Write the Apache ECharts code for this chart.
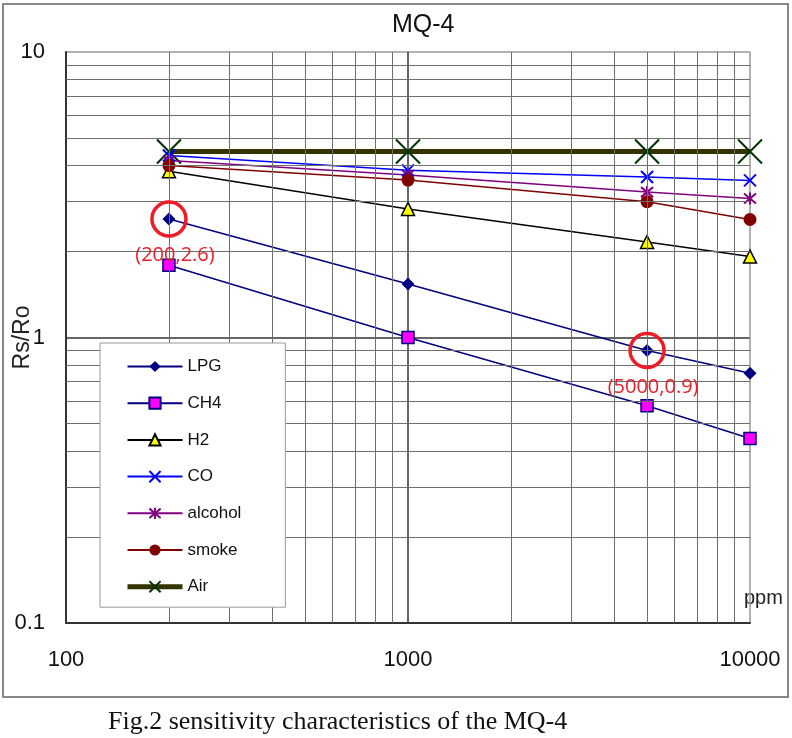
<!DOCTYPE html>
<html>
<head>
<meta charset="utf-8">
<title>MQ-4</title>
<script src="https://cdn.jsdelivr.net/npm/echarts@6/dist/echarts.min.js"></script>
<style>
  html, body { margin: 0; padding: 0; background: #fff; }
  #chart { width: 792px; height: 738px; }
</style>
</head>
<body>
<div id="chart"></div>
<script>
// concentrations (ppm) where the curves were sampled
var ppm = [200, 1000, 5000, 10000]

// Rs/Ro for each gas
var lpg = [2.6, 1.54, 0.9, 0.75]
var ch4 = [1.79, 1.0, 0.577, 0.443]
var h2 = [3.82, 2.82, 2.16, 1.92]
var co = [4.34, 3.85, 3.65, 3.55]
var alcohol = [4.17, 3.71, 3.23, 3.07]
var smoke = [4.0, 3.56, 2.99, 2.59]
var air = [4.48, 4.48, 4.48, 4.48]

// log grid lines between the decades
var xMinor = [200, 300, 400, 500, 600, 700, 800, 900, 2000, 3000, 4000, 5000, 6000, 7000, 8000, 9000]
var yMinor = [0.2, 0.3, 0.4, 0.5, 0.6, 0.7, 0.8, 0.9, 2, 3, 4, 5, 6, 7, 8, 9]

// points circled in red on the LPG curve
var marked = [[200, 2.6], [5000, 0.9]]

var FONT = 'Liberation Sans'
var cross = 'path://M0,0L10,10M10,0L0,10'
var star = 'path://M0,0L10,10M10,0L0,10M5,-1L5,11'

function pairs(vals) {
  return ppm.map(function (x, i) { return [x, vals[i]] })
}

function gridLines() {
  var d = []
  xMinor.forEach(function (v) { d.push({ xAxis: v }) })
  yMinor.forEach(function (v) { d.push({ yAxis: v }) })
  return d
}

var chart = echarts.init(document.getElementById('chart'))

chart.setOption({
  animation: false,
  backgroundColor: '#fff',
  title: [{
    text: 'MQ-4',
    left: 392,
    top: 13,
    padding: 0,
    textStyle: { fontFamily: FONT, fontSize: 25, fontWeight: 'normal', color: '#111' }
  }, {
    text: 'Fig.2 sensitivity characteristics of the MQ-4',
    left: 108,
    top: 709,
    padding: 0,
    textStyle: { fontFamily: 'Liberation Serif', fontSize: 26, fontWeight: 'normal', color: '#111' }
  }],
  graphic: [{
    type: 'rect',
    z: -1,
    shape: { x: 3, y: 4, width: 785, height: 693 },
    style: { fill: 'none', stroke: '#888', lineWidth: 2 }
  }, {
    type: 'text',
    left: 744,
    top: 588,
    style: { text: 'ppm', font: '20px ' + FONT, fill: '#222' }
  }],
  grid: { left: 66, right: 42, top: 52, bottom: 115, outerBoundsMode: 'none' },
  legend: {
    orient: 'vertical',
    left: 100,
    top: 343,
    z: 20,
    padding: [15, 44, 12, 25],
    itemWidth: 55,
    itemHeight: 14,
    itemGap: 19.7,
    backgroundColor: '#fff',
    borderColor: '#999',
    borderWidth: 1,
    textStyle: { fontFamily: FONT, fontSize: 17, color: '#111' },
    data: ['LPG', 'CH4', 'H2', 'CO', 'alcohol', 'smoke', { name: 'Air', lineStyle: { width: 5 } }]
  },
  xAxis: {
    type: 'log',
    logBase: 10,
    min: 100,
    max: 10000,
    axisTick: { show: false },
    axisLine: { show: true, lineStyle: { color: '#333', width: 2 } },
    axisLabel: {
      fontFamily: FONT, fontSize: 22, color: '#111', margin: 26,
      formatter: function (v) { return String(v) }
    },
    splitLine: { show: true, lineStyle: { color: ['#333', '#333', '#999'], width: 1.5 } }
  },
  yAxis: {
    type: 'log',
    logBase: 10,
    min: 0.1,
    max: 10,
    name: 'Rs/Ro',
    nameLocation: 'middle',
    nameGap: 32,
    nameRotate: 90,
    nameMoveOverlap: false,
    nameTextStyle: { fontFamily: FONT, fontSize: 23, color: '#222' },
    axisTick: { show: false },
    axisLine: { show: true, lineStyle: { color: '#333', width: 2 } },
    axisLabel: {
      fontFamily: FONT, fontSize: 22, color: '#111', margin: 21,
      formatter: function (v) { return String(v) }
    },
    splitLine: { show: true, lineStyle: { color: ['#333', '#333', '#999'], width: 1.5 } }
  },
  series: [{
    name: 'grid',
    type: 'line',
    data: [],
    silent: true,
    markLine: {
      silent: true,
      symbol: 'none',
      label: { show: false },
      lineStyle: { color: '#6e6e6e', type: 'solid', width: 1 },
      data: gridLines()
    }
  }, {
    name: 'LPG',
    type: 'line',
    data: pairs(lpg),
    symbol: 'diamond',
    symbolSize: 13,
    itemStyle: { color: '#000080' },
    lineStyle: { color: '#000080', width: 1.5 },
    markPoint: {
      symbol: 'circle',
      symbolSize: 34,
      itemStyle: { color: 'rgba(0,0,0,0)', borderColor: '#ee1c25', borderWidth: 3.5 },
      label: {
        show: true,
        position: 'bottom',
        distance: 8,
        offset: [6, 0],
        color: '#ee1c25',
        fontFamily: 'Open Sans',
        fontSize: 20,
        formatter: function (p) { return '(' + p.data.coord[0] + ',' + p.data.coord[1] + ')' }
      },
      data: marked.map(function (c) { return { coord: c } })
    }
  }, {
    name: 'CH4',
    type: 'line',
    data: pairs(ch4),
    symbol: 'rect',
    symbolSize: 12,
    itemStyle: { color: '#ff00ff', borderColor: '#000080', borderWidth: 1.5 },
    lineStyle: { color: '#000080', width: 1.5 }
  }, {
    name: 'H2',
    type: 'line',
    data: pairs(h2),
    symbol: 'triangle',
    symbolSize: 13,
    itemStyle: { color: '#ffff00', borderColor: '#000', borderWidth: 1.5 },
    lineStyle: { color: '#000', width: 1.5 }
  }, {
    name: 'CO',
    type: 'line',
    data: pairs(co),
    symbol: cross,
    symbolSize: 12,
    itemStyle: { color: 'none', borderColor: '#0000ff', borderWidth: 2 },
    lineStyle: { color: '#0000ff', width: 1.5 }
  }, {
    name: 'alcohol',
    type: 'line',
    data: pairs(alcohol),
    symbol: star,
    symbolSize: 12,
    itemStyle: { color: 'none', borderColor: '#800080', borderWidth: 2 },
    lineStyle: { color: '#800080', width: 1.5 }
  }, {
    name: 'smoke',
    type: 'line',
    data: pairs(smoke),
    symbol: 'circle',
    symbolSize: 13,
    itemStyle: { color: '#800000' },
    lineStyle: { color: '#800000', width: 1.5 }
  }, {
    name: 'Air',
    type: 'line',
    z: 1,
    data: pairs(air),
    symbol: cross,
    symbolSize: 24,
    itemStyle: { color: 'none', borderColor: '#003300', borderWidth: 2 },
    lineStyle: { color: '#333300', width: 5 }
  }]
})
</script>
</body>
</html>
